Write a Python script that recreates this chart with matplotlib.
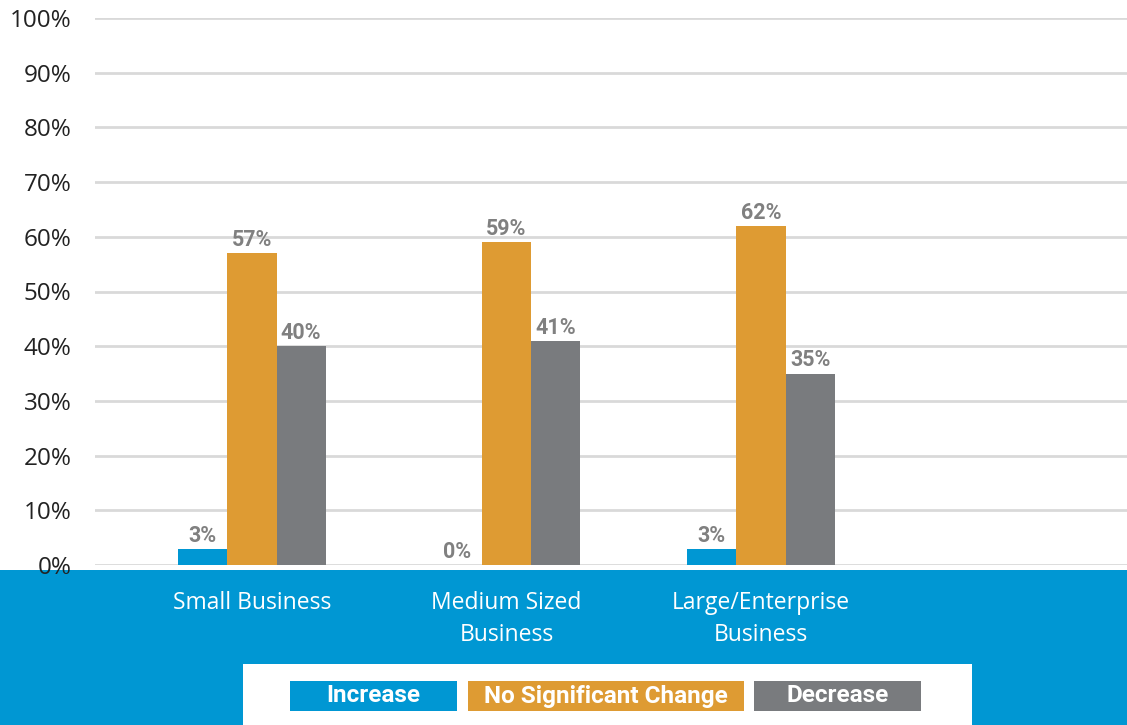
import matplotlib.pyplot as plt
from matplotlib.patches import Rectangle
import numpy as np

categories = ["Small Business", "Medium Sized\nBusiness", "Large/Enterprise\nBusiness"]
series_names = ["Increase", "No Significant Change", "Decrease"]
increase = [3, 0, 3]
no_change = [57, 59, 62]
decrease = [40, 41, 35]
y_ticks = [0, 10, 20, 30, 40, 50, 60, 70, 80, 90, 100]

colors = ["#0097D3", "#DE9B33", "#797B7E"]
BLUE_BAND = "#0097D3"

W, H = 1127, 725
fig = plt.figure(figsize=(W / 100, H / 100), dpi=100)
fig.patch.set_facecolor("white")

# blue band at bottom
fig.patches.append(Rectangle((0, 0), 1, (H - 570) / H, transform=fig.transFigure,
                             facecolor=BLUE_BAND, edgecolor="none", zorder=0))
# white legend box
fig.patches.append(Rectangle((243 / W, 0), (972 - 243) / W, (H - 664) / H,
                             transform=fig.transFigure, facecolor="white",
                             edgecolor="none", zorder=1))

ax = fig.add_axes([95 / W, (H - 565) / H, (W - 95) / W, (565 - 18) / H])
ax.set_facecolor("none")
ax.set_zorder(5)

x = np.arange(len(categories)) * 1.0
bw = 0.193
all_series = [increase, no_change, decrease]
for i, (vals, c) in enumerate(zip(all_series, colors)):
    xs = x + (i - 1) * bw
    ax.bar(xs, vals, width=bw, color=c, zorder=3, clip_on=False)
    for xx, v in zip(xs, vals):
        ax.annotate(f"{v}%", (xx, v), xytext=(0, 1.5), textcoords="offset points",
                    ha="center", va="bottom", fontsize=15.5, fontweight="bold",
                    color="#808080", family="Roboto", zorder=4)

ax.set_ylim(0, 100)
ax.set_xlim(-0.617, 3.438)
ax.set_yticks(y_ticks)
ax.set_yticklabels([f"{t}%" for t in y_ticks], fontsize=17.5, color="#222222", family="Open Sans")
ax.tick_params(axis="y", length=0, pad=17)
ax.yaxis.grid(True, color="#D9D9D9", linewidth=2, zorder=0)
ax.set_axisbelow(True)
for s in ax.spines.values():
    s.set_visible(False)

ax.set_xticks(x)
ax.set_xticklabels(categories, fontsize=16.5, color="white", family="Open Sans",
                   linespacing=1.45)
ax.tick_params(axis="x", length=0, pad=19)

# legend boxes
legend_boxes = [(290, 457), (468, 744), (754, 921)]
for (x0, x1), name, c in zip(legend_boxes, series_names, colors):
    fig.patches.append(Rectangle((x0 / W, (H - 711) / H), (x1 - x0) / W, 30 / H,
                                 transform=fig.transFigure, facecolor=c,
                                 edgecolor="none", zorder=2))
    fig.text((x0 + x1) / 2 / W, (H - 696) / H, name, ha="center", va="center",
             color="white", fontsize=17.5, fontweight="bold", family="Roboto", zorder=3)

fig.savefig("out.png", dpi=100, facecolor="white")
